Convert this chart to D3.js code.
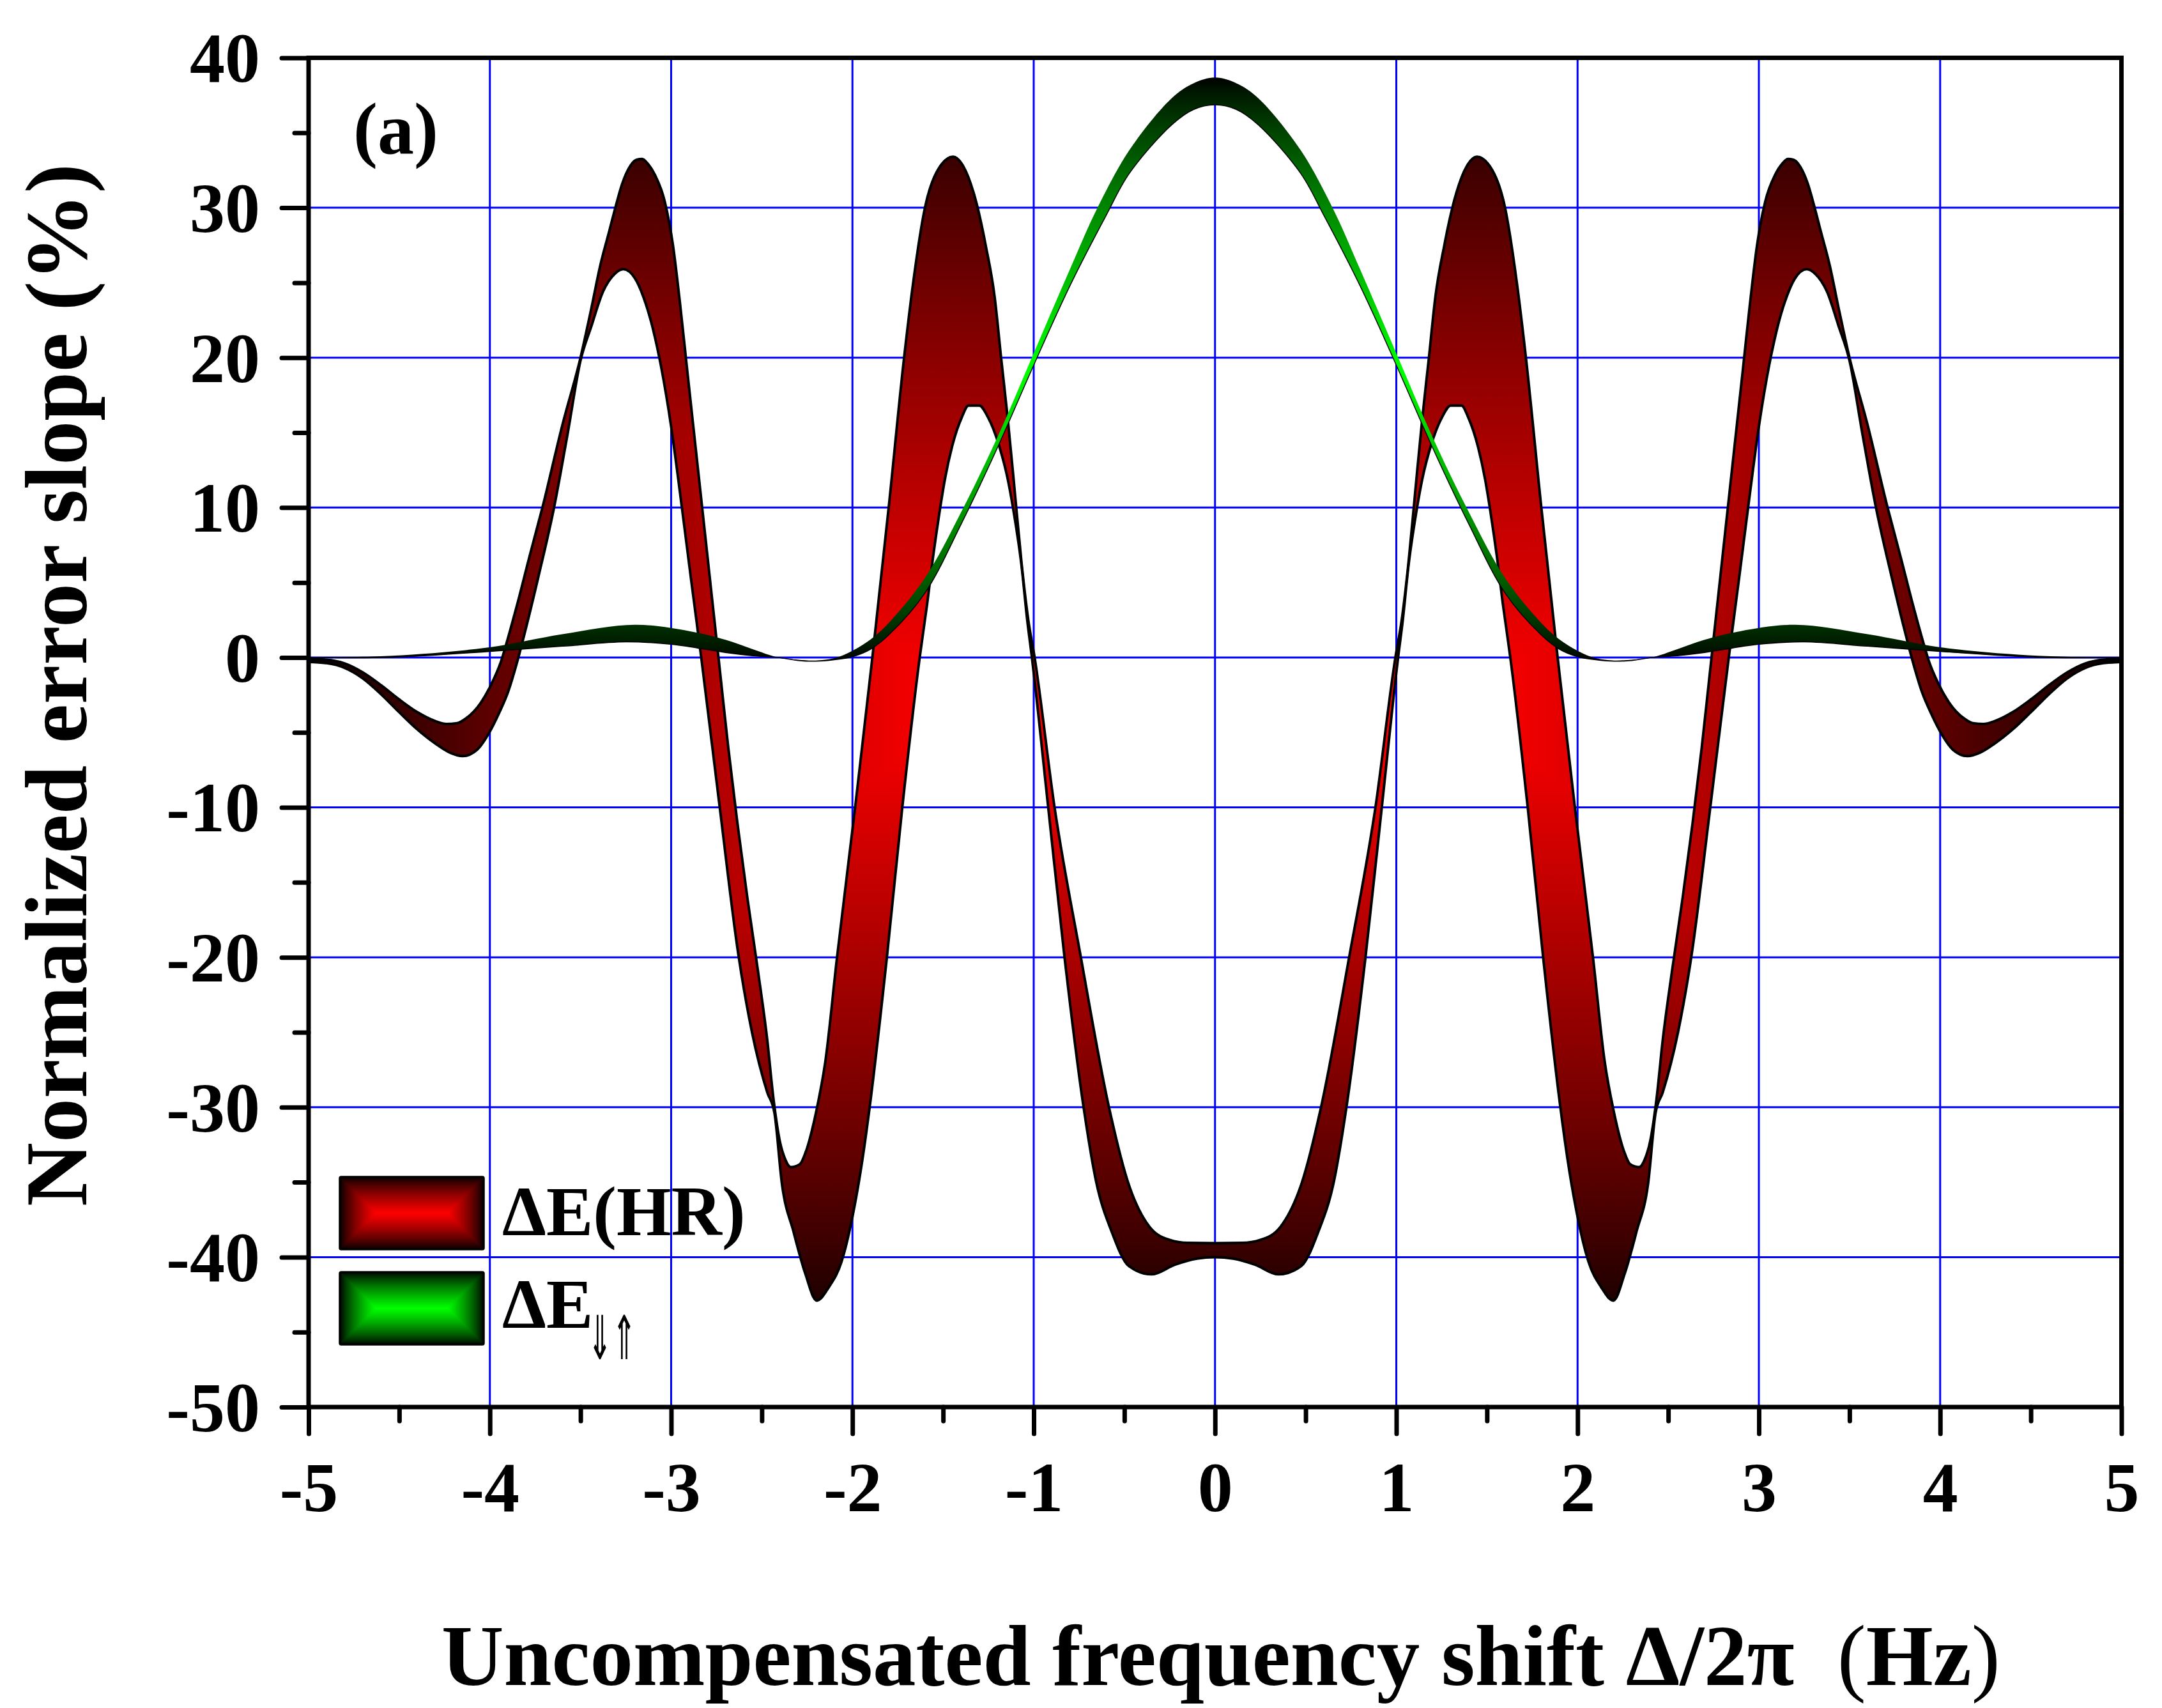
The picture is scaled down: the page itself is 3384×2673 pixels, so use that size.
<!DOCTYPE html>
<html>
<head>
<meta charset="utf-8">
<script src="https://cdn.jsdelivr.net/npm/d3@7"></script>
<style>
  body { margin: 0; background: #ffffff; }
  svg { display: block; }
</style>
</head>
<body>
<svg id="chart" width="3384" height="2673"></svg>
<script>
// ---------------- DATA ----------------
const xTicks = [-5, -4, -3, -2, -1, 0, 1, 2, 3, 4, 5];
const xMinorTicks = [-4.5, -3.5, -2.5, -1.5, -0.5, 0.5, 1.5, 2.5, 3.5, 4.5];
const yTicks = [-50, -40, -30, -20, -10, 0, 10, 20, 30, 40];
const yMinorTicks = [-45, -35, -25, -15, -5, 5, 15, 25, 35];
const seriesNames = ["ΔE(HR)", "ΔE", "⇓⇑"];
const xTitleParts = ["Uncompensated frequency shift Δ/2π  ", "(", "Hz", ")"];
const yTitle = "Normalized error slope (%)";
const panelLabel = "(a)";

// ΔE(HR) band: upper and lower bounds [x, y]
const redUpper = [
  [-5.00, -0.10], [-4.90, -0.15], [-4.80, -0.40], [-4.70, -1.00], [-4.60, -1.85], [-4.50, -2.80],
  [-4.40, -3.65], [-4.30, -4.25], [-4.24, -4.44], [-4.18, -4.38], [-4.13, -4.05], [-4.05, -3.02],
  [-3.99, -1.74], [-3.94, -0.32], [-3.90, 1.30], [-3.85, 3.50],
  [-3.78, 6.80], [-3.71, 10.00], [-3.60, 15.50], [-3.50, 20.00], [-3.44, 23.30], [-3.39, 26.20],
  [-3.34, 28.50], [-3.31, 29.90], [-3.27, 31.60], [-3.23, 32.70], [-3.19, 33.20], [-3.16, 33.25],
  [-3.13, 32.95], [-3.09, 32.20],
  [-3.035, 30.40], [-2.99, 27.50], [-2.95, 23.50], [-2.91, 19.00], [-2.865, 14.00], [-2.82, 9.00],
  [-2.775, 4.00], [-2.73, -1.00], [-2.685, -6.00], [-2.635, -11.00], [-2.58, -16.00], [-2.52, -21.00],
  [-2.47, -25.50], [-2.435, -29.50], [-2.40, -32.30], [-2.37, -33.50], [-2.34, -34.00], [-2.29, -33.80],
  [-2.255, -32.90], [-2.20, -30.30], [-2.15, -27.00], [-2.085, -20.00], [-1.985, -10.00], [-1.89, 0.00],
  [-1.80, 10.00], [-1.715, 20.00], [-1.665, 25.00], [-1.60, 30.00], [-1.53, 32.50], [-1.445, 33.40],
  [-1.39, 32.80], [-1.32, 30.50], [-1.265, 27.50], [-1.215, 24.00], [-1.18, 20.00], [-1.143, 15.90],
  [-1.104, 11.00], [-1.068, 6.40], [-1.03, 2.50], [-0.995, 0.00], [-0.885, -10.00], [-0.74, -20.00],
  [-0.585, -30.00], [-0.48, -35.00], [-0.36, -38.00], [-0.25, -38.85], [-0.15, -39.05], [0.00, -39.07],
  [0.15, -39.05], [0.25, -38.85], [0.36, -38.00], [0.48, -35.00], [0.585, -30.00], [0.74, -20.00],
  [0.885, -10.00], [0.995, 0.00], [1.03, 2.50], [1.068, 6.40], [1.104, 11.00], [1.143, 15.90],
  [1.18, 20.00], [1.215, 24.00], [1.265, 27.50], [1.32, 30.50], [1.39, 32.80], [1.445, 33.40],
  [1.53, 32.50], [1.60, 30.00], [1.665, 25.00], [1.715, 20.00], [1.80, 10.00], [1.89, 0.00],
  [1.985, -10.00], [2.085, -20.00], [2.15, -27.00], [2.20, -30.30], [2.255, -32.90], [2.29, -33.80],
  [2.34, -34.00], [2.37, -33.50], [2.40, -32.30], [2.435, -29.50], [2.47, -25.50], [2.52, -21.00],
  [2.58, -16.00], [2.635, -11.00], [2.685, -6.00], [2.73, -1.00], [2.775, 4.00], [2.82, 9.00],
  [2.865, 14.00], [2.91, 19.00], [2.95, 23.50], [2.99, 27.50], [3.035, 30.40],
  [3.09, 32.20], [3.13, 32.95], [3.16, 33.25], [3.19, 33.20], [3.23, 32.70], [3.27, 31.60],
  [3.31, 29.90], [3.34, 28.50], [3.39, 26.20],
  [3.44, 23.30], [3.50, 20.00], [3.60, 15.50], [3.71, 10.00], [3.78, 6.80], [3.85, 3.50],
  [3.90, 1.30], [3.94, -0.32], [3.99, -1.74], [4.05, -3.02], [4.13, -4.05], [4.18, -4.38],
  [4.24, -4.44], [4.30, -4.25], [4.40, -3.65], [4.50, -2.80], [4.60, -1.85], [4.70, -1.00],
  [4.80, -0.40], [4.90, -0.15], [5.00, -0.10]
];
const redLower = [
  [-5.00, -0.30], [-4.90, -0.38], [-4.80, -0.70], [-4.70, -1.40], [-4.60, -2.45], [-4.50, -3.65],
  [-4.40, -4.80], [-4.30, -5.75], [-4.22, -6.35], [-4.15, -6.58], [-4.07, -6.15], [-4.01, -5.15],
  [-3.95, -3.73], [-3.90, -2.31], [-3.85, -0.32],
  [-3.80, 2.00], [-3.73, 5.50], [-3.646, 10.00], [-3.57, 15.00], [-3.50, 19.80], [-3.44, 22.10],
  [-3.376, 24.40], [-3.31, 25.60], [-3.264, 25.90], [-3.20, 25.30], [-3.153, 24.05], [-3.10, 21.90],
  [-3.057, 19.50], [-3.00, 15.40], [-2.946, 10.50], [-2.89, 5.20], [-2.834, 0.00], [-2.732, -10.00],
  [-2.627, -20.00], [-2.554, -25.00], [-2.47, -29.00], [-2.43, -30.40], [-2.389, -35.10], [-2.325, -38.30],
  [-2.26, -41.10], [-2.197, -42.90], [-2.13, -42.00], [-2.06, -40.30], [-1.99, -36.70], [-1.945, -33.50],
  [-1.905, -30.00], [-1.81, -20.00], [-1.725, -10.00], [-1.629, 0.00], [-1.588, 3.56], [-1.555, 6.73],
  [-1.52, 9.67], [-1.49, 11.88], [-1.45, 14.09], [-1.396, 16.04], [-1.36, 16.80], [-1.30, 16.80],
  [-1.253, 16.04], [-1.19, 14.09], [-1.143, 11.88], [-1.11, 9.67], [-1.068, 6.20], [-1.035, 2.40],
  [-1.01, 0.00], [-0.92, -10.00], [-0.83, -20.00], [-0.725, -30.00], [-0.655, -35.00], [-0.57, -38.30],
  [-0.475, -40.60], [-0.35, -41.15], [-0.22, -40.50], [-0.10, -40.10], [0.00, -40.00],
  [0.10, -40.10], [0.22, -40.50], [0.35, -41.15], [0.475, -40.60], [0.57, -38.30], [0.655, -35.00],
  [0.725, -30.00], [0.83, -20.00], [0.92, -10.00], [1.01, 0.00], [1.035, 2.40], [1.068, 6.20],
  [1.11, 9.67], [1.143, 11.88], [1.19, 14.09], [1.253, 16.04], [1.30, 16.80], [1.36, 16.80],
  [1.396, 16.04], [1.45, 14.09], [1.49, 11.88], [1.52, 9.67], [1.555, 6.73], [1.588, 3.56],
  [1.629, 0.00], [1.725, -10.00], [1.81, -20.00], [1.905, -30.00], [1.945, -33.50], [1.99, -36.70],
  [2.06, -40.30], [2.13, -42.00], [2.197, -42.90], [2.26, -41.10], [2.325, -38.30], [2.389, -35.10],
  [2.43, -30.40], [2.47, -29.00], [2.554, -25.00], [2.627, -20.00], [2.732, -10.00], [2.834, 0.00],
  [2.89, 5.20], [2.946, 10.50], [3.00, 15.40], [3.057, 19.50], [3.10, 21.90], [3.153, 24.05],
  [3.20, 25.30], [3.264, 25.90], [3.31, 25.60], [3.376, 24.40], [3.44, 22.10], [3.50, 19.80],
  [3.57, 15.00], [3.646, 10.00], [3.73, 5.50], [3.80, 2.00], [3.85, -0.32], [3.90, -2.31],
  [3.95, -3.73], [4.01, -5.15], [4.07, -6.15], [4.15, -6.58], [4.22, -6.35], [4.30, -5.75],
  [4.40, -4.80], [4.50, -3.65], [4.60, -2.45], [4.70, -1.40], [4.80, -0.70], [4.90, -0.38],
  [5.00, -0.30]
];

// ΔE⇓⇑ band: upper and lower bounds [x, y]
const greenUpper = [
  [-5.00, 0.00], [-4.54, 0.11], [-4.00, 0.68], [-3.60, 1.55], [-3.20, 2.18], [-2.90, 1.76],
  [-2.70, 1.18], [-2.55, 0.55], [-2.41, 0.00], [-2.30, -0.15], [-2.20, -0.20], [-2.10, -0.05],
  [-2.00, 0.45], [-1.90, 1.20], [-1.80, 2.30], [-1.60, 5.30], [-1.40, 9.70], [-1.20, 14.70],
  [-1.00, 20.30], [-0.80, 25.90], [-0.648, 30.00], [-0.472, 33.85], [-0.237, 37.33], [-0.119, 38.30],
  [0.00, 38.69],
  [0.119, 38.30], [0.237, 37.33], [0.472, 33.85], [0.648, 30.00], [0.80, 25.90], [1.00, 20.30],
  [1.20, 14.70], [1.40, 9.70], [1.60, 5.30], [1.80, 2.30], [1.90, 1.20], [2.00, 0.45],
  [2.10, -0.05], [2.20, -0.20], [2.30, -0.15], [2.41, 0.00], [2.55, 0.55], [2.70, 1.18],
  [2.90, 1.76], [3.20, 2.18], [3.60, 1.55], [4.00, 0.68], [4.54, 0.11], [5.00, 0.00]
];
const greenLower = [
  [-5.00, 0.00], [-4.54, 0.01], [-4.00, 0.40], [-3.60, 0.75], [-3.25, 1.04], [-3.00, 0.88],
  [-2.85, 0.62], [-2.70, 0.33], [-2.55, 0.12], [-2.41, 0.00], [-2.30, -0.20], [-2.20, -0.25],
  [-2.10, -0.15], [-2.00, 0.05], [-1.90, 0.55], [-1.80, 1.50], [-1.60, 4.30], [-1.40, 8.90],
  [-1.20, 14.00], [-1.00, 19.50], [-0.80, 24.80], [-0.60, 29.50], [-0.472, 32.30], [-0.237, 35.55],
  [-0.119, 36.55], [0.00, 36.87],
  [0.119, 36.55], [0.237, 35.55], [0.472, 32.30], [0.60, 29.50], [0.80, 24.80], [1.00, 19.50],
  [1.20, 14.00], [1.40, 8.90], [1.60, 4.30], [1.80, 1.50], [1.90, 0.55], [2.00, 0.05],
  [2.10, -0.15], [2.20, -0.25], [2.30, -0.20], [2.41, 0.00], [2.55, 0.12], [2.70, 0.33],
  [2.85, 0.62], [3.00, 0.88], [3.25, 1.04], [3.60, 0.75], [4.00, 0.40], [4.54, 0.01], [5.00, 0.00]
];

// ---------------- LAYOUT / STYLE ----------------
const FONT = "'Liberation Serif', 'Times New Roman', Times, serif";
const plot = { left: 483, right: 3320.5, top: 90.5, bottom: 2202 };
// vertical extent (data units) of the red shading box
const redShadeY = [-46, 40];

const svg = d3.select("#chart");
const defs = svg.append("defs");

const x = d3.scaleLinear()
  .domain([d3.min(xTicks), d3.max(xTicks)])
  .range([plot.left, plot.right]);
const y = d3.scaleLinear()
  .domain([d3.min(yTicks), d3.max(yTicks)])
  .range([plot.bottom, plot.top]);

// pillow (rectangular) gradient: dark at the box edges, bright in the centre
const shadeSteps = [0, 0.04, 0.1, 0.18, 0.28, 0.4, 0.55, 0.72, 0.86, 1];
const shade = t => Math.pow(t, 0.8);

function addStops(grad, color, mirror) {
  const ip = d3.interpolateRgb("#000000", color);
  shadeSteps.forEach(t => {
    const off = mirror ? t / 2 : t;
    grad.append("stop").attr("offset", off).attr("stop-color", ip(shade(t)));
  });
  if (mirror) {
    shadeSteps.slice().reverse().forEach(t => {
      grad.append("stop").attr("offset", 1 - t / 2).attr("stop-color", ip(shade(t)));
    });
  }
}

function pillowPattern(id, x0, y0, w, h, color) {
  const half = Math.min(w, h) / 2;
  const gv = defs.append("linearGradient").attr("id", id + "-v")
    .attr("x1", 0).attr("y1", 0).attr("x2", 0).attr("y2", 1);
  addStops(gv, color, true);
  const gl = defs.append("linearGradient").attr("id", id + "-l")
    .attr("x1", 0).attr("y1", 0).attr("x2", 1).attr("y2", 0);
  addStops(gl, color, false);
  const gr = defs.append("linearGradient").attr("id", id + "-r")
    .attr("x1", 1).attr("y1", 0).attr("x2", 0).attr("y2", 0);
  addStops(gr, color, false);

  const pat = defs.append("pattern").attr("id", id)
    .attr("patternUnits", "userSpaceOnUse")
    .attr("x", x0).attr("y", y0).attr("width", w).attr("height", h);
  pat.append("rect").attr("width", w).attr("height", h).attr("fill", `url(#${id}-v)`);
  pat.append("path")
    .attr("d", `M0,0L${half},${half}L${half},${h - half}L0,${h}Z`)
    .attr("fill", `url(#${id}-l)`);
  pat.append("path")
    .attr("d", `M${w},0L${w - half},${half}L${w - half},${h - half}L${w},${h}Z`)
    .attr("fill", `url(#${id}-r)`);
}

// ---------------- GRID ----------------
const grid = svg.append("g").attr("stroke", "#0000ff").attr("stroke-width", 3);
grid.selectAll("line.vx")
  .data(xTicks.slice(1, -1))
  .join("line")
  .attr("x1", d => x(d)).attr("x2", d => x(d))
  .attr("y1", plot.top).attr("y2", plot.bottom);
grid.selectAll("line.hy")
  .data(yTicks.slice(1, -1))
  .join("line")
  .attr("y1", d => y(d)).attr("y2", d => y(d))
  .attr("x1", plot.left).attr("x2", plot.right);

// ---------------- BANDS ----------------
function drawBand(upper, lower, id, color, strokeUpper, strokeLower, curve, shadeY) {
  const line = d3.line().x(d => x(d[0])).y(d => y(d[1])).curve(curve);
  const all = upper.concat(lower);
  const bx0 = x(d3.min(all, d => d[0])), bx1 = x(d3.max(all, d => d[0]));
  const yTop = shadeY ? shadeY[1] : d3.max(all, d => d[1]);
  const yBot = shadeY ? shadeY[0] : d3.min(all, d => d[1]);
  const by0 = y(yTop), by1 = y(yBot);
  pillowPattern(id, bx0, by0, bx1 - bx0, by1 - by0, color);
  const a = line(upper);
  const b = line(lower.slice().reverse());
  const g = svg.append("g");
  g.append("path").attr("d", a + "L" + b.slice(1) + "Z").attr("fill", `url(#${id})`);
  if (strokeUpper > 0) {
    g.append("path").attr("d", a).attr("fill", "none")
      .attr("stroke", "#000").attr("stroke-width", strokeUpper).attr("stroke-linejoin", "round");
  }
  if (strokeLower > 0) {
    g.append("path").attr("d", line(lower)).attr("fill", "none")
      .attr("stroke", "#000").attr("stroke-width", strokeLower).attr("stroke-linejoin", "round");
  }
}

drawBand(redUpper, redLower, "redPillow", "#ff0000", 4, 4, d3.curveMonotoneX, redShadeY);
drawBand(greenUpper, greenLower, "greenPillow", "#00ff00", 0, 1.5, d3.curveCatmullRom.alpha(0.5), null);

// ---------------- AXES ----------------
function styleAxis(g) {
  g.select(".domain").remove();
  g.selectAll(".tick line")
    .attr("stroke", "#000").attr("stroke-width", 7).attr("stroke-linecap", "round");
  g.selectAll(".tick text")
    .attr("fill", "#000")
    .style("font-family", FONT).style("font-weight", "bold").style("font-size", "110px");
}

const fmt = d => String(d);

svg.append("g").attr("transform", `translate(0,${plot.bottom})`)
  .call(d3.axisBottom(x).tickValues(xMinorTicks).tickSize(22).tickSizeOuter(0).tickFormat(""))
  .call(styleAxis);
const xAxisG = svg.append("g").attr("transform", `translate(0,${plot.bottom})`)
  .call(d3.axisBottom(x).tickValues(xTicks).tickSize(42).tickSizeOuter(0).tickFormat(fmt))
  .call(styleAxis);
xAxisG.selectAll(".tick text").attr("y", 163).attr("dy", "0");

svg.append("g").attr("transform", `translate(${plot.left},0)`)
  .call(d3.axisLeft(y).tickValues(yMinorTicks).tickSize(22).tickSizeOuter(0).tickFormat(""))
  .call(styleAxis);
const yAxisG = svg.append("g").attr("transform", `translate(${plot.left},0)`)
  .call(d3.axisLeft(y).tickValues(yTicks).tickSize(42).tickPadding(34).tickSizeOuter(0).tickFormat(fmt))
  .call(styleAxis);
yAxisG.selectAll(".tick text").attr("dy", "0.34em");

// frame
svg.append("rect")
  .attr("x", plot.left).attr("y", plot.top)
  .attr("width", plot.right - plot.left).attr("height", plot.bottom - plot.top)
  .attr("fill", "none").attr("stroke", "#000").attr("stroke-width", 7);

// ---------------- LEGEND ----------------
const legendItems = [
  { name: seriesNames[0], color: "#ff0000", id: "legRed", sub: null },
  { name: seriesNames[1], color: "#00ff00", id: "legGreen", sub: seriesNames[2] }
];
const leg = { x: 532, y: 1842, w: 225, h: 113, step: 149, textX: 786, baseline: 1933 };
legendItems.forEach((item, i) => {
  const by = leg.y + i * leg.step;
  pillowPattern(item.id, leg.x, by, leg.w, leg.h, item.color);
  svg.append("rect")
    .attr("x", leg.x).attr("y", by).attr("width", leg.w).attr("height", leg.h)
    .attr("rx", 2)
    .attr("fill", `url(#${item.id})`).attr("stroke", "#000").attr("stroke-width", 3.5);
  svg.append("text")
    .attr("x", leg.textX).attr("y", leg.baseline + i * 145)
    .style("font-family", FONT).style("font-weight", "bold").style("font-size", "110px")
    .text(item.name);
  if (item.sub) {
    svg.append("text")
      .attr("x", 920).attr("y", 2127)
      .attr("textLength", 76).attr("lengthAdjust", "spacingAndGlyphs")
      .style("font-family", "'DejaVu Sans', sans-serif").style("font-size", "95px")
      .text(item.sub);
  }
});

// ---------------- TEXTS ----------------
svg.append("text")
  .attr("x", 553).attr("y", 240)
  .style("font-family", FONT).style("font-weight", "bold").style("font-size", "114px")
  .text(panelLabel);

const xt = svg.append("text")
  .attr("x", 691).attr("y", 2637)
  .style("font-family", FONT).style("font-weight", "bold").style("font-size", "135px")
  .style("white-space", "pre");
xt.append("tspan").text(xTitleParts[0]);
xt.append("tspan").style("font-weight", "normal").text(xTitleParts[1]);
xt.append("tspan").text(xTitleParts[2]);
xt.append("tspan").style("font-weight", "normal").text(xTitleParts[3]);

svg.append("text")
  .attr("transform", "translate(135,1072) rotate(-90)")
  .attr("text-anchor", "middle")
  .style("font-family", FONT).style("font-weight", "bold").style("font-size", "138px")
  .text(yTitle);
</script>
</body>
</html>
